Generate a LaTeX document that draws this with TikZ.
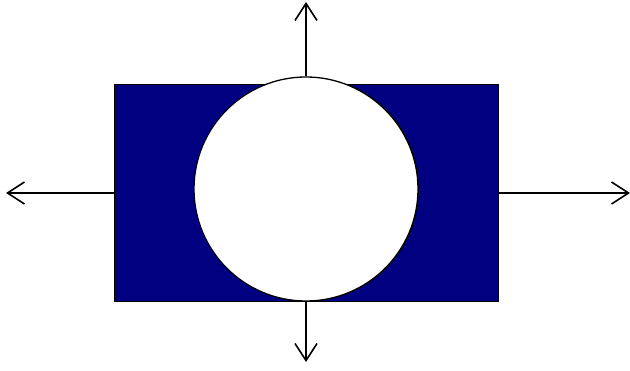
\documentclass[tikz,border=0pt]{standalone}
\usetikzlibrary{arrows.meta}
\definecolor{navyfill}{RGB}{0,0,128}
\begin{document}
\begin{tikzpicture}[x=1pt,y=-1pt,
  arr/.style={line width=1.6pt,-{Straight Barb[length=17pt,width=22pt,line width=1.6pt]}}]
\useasboundingbox (0,0) rectangle (630,371);
\node[draw=black,line width=1pt,fill=navyfill,minimum width=384pt,minimum height=217pt,inner sep=0pt,anchor=north west] (box) at (114,84) {};
\node[circle,draw=black,line width=1.3pt,fill=white,minimum size=224pt,inner sep=0pt] (c) at (306,189) {};
\coordinate (up) at (306,2);
\coordinate (down) at (306,362);
\coordinate (left) at (6,193);
\coordinate (right) at (630,193);
\coordinate (boxl) at (114,193);
\coordinate (boxr) at (498,193);
\draw[arr] (c.north) -- (up);
\draw[arr] (c.south) -- (down);
\draw[arr] (boxl) -- (left);
\draw[arr] (boxr) -- (right);
\end{tikzpicture}
\end{document}
